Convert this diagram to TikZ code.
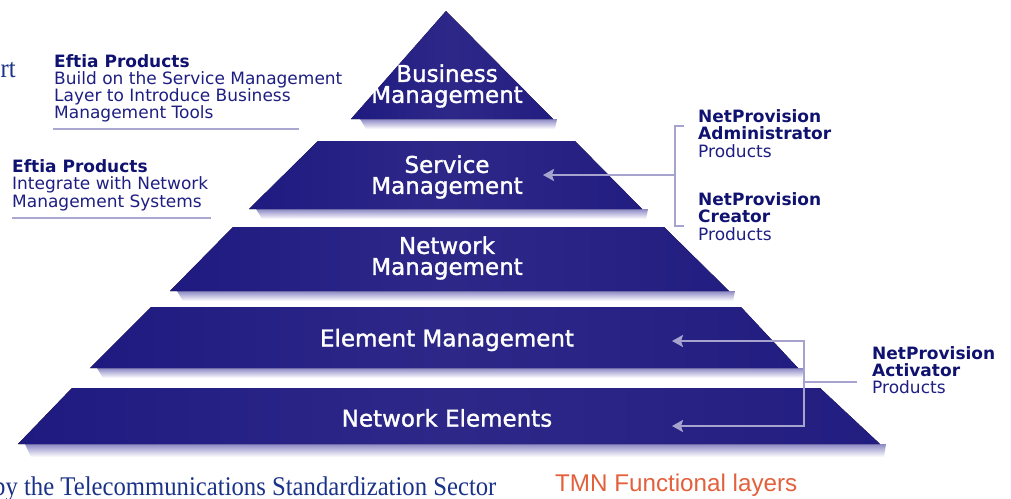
\documentclass[tikz,border=0pt]{standalone}
\usepackage{fontspec}
\newfontfamily\dvs{DejaVu Sans}
\newfontfamily\dvsb[FakeBold=1.4]{DejaVu Sans}
\newfontfamily\lbs{Liberation Sans}
\newfontfamily\lsr{Liberation Serif}
\usetikzlibrary{arrows.meta}
\definecolor{layerL}{RGB}{31,26,128}
\definecolor{layerM}{RGB}{45,40,136}
\definecolor{layerR}{RGB}{34,29,128}
\definecolor{shadowc}{RGB}{140,136,196}
\definecolor{connc}{RGB}{166,164,206}
\definecolor{navyb}{RGB}{16,18,112}
\definecolor{navy}{RGB}{30,30,130}
\definecolor{serifblue}{RGB}{26,50,135}
\definecolor{tmnorange}{RGB}{226,96,60}
\definecolor{rulec}{RGB}{170,168,208}
\tikzset{
  layerfill/.style={left color=layerL, right color=layerR, middle color=layerM},
  shadowstrip/.style={top color=shadowc, bottom color=white},
  lbl/.style={text=white, font=\dvsb\fontsize{23}{21}\selectfont, align=center, inner sep=0},
  info/.style={text=navy, font=\dvs\fontsize{17}{17.2}\selectfont, align=left, inner sep=0, anchor=north west},
  connline/.style={draw=connc, line width=2pt},
  connarrow/.style={connline, -{Stealth[length=11pt,width=12pt,inset=2pt]}},
  rulel/.style={draw=rulec, line width=2pt},
  serift/.style={inner sep=0, text=serifblue, font=\lsr\fontsize{27}{27}\selectfont, xscale=0.915},
}
\begin{document}
\begin{tikzpicture}[x=1pt,y=-1pt]
\useasboundingbox (0,0) rectangle (1011,498);
% shadows
\shade[shadowstrip] (360,119) -- (557,119) -- (555,129) -- (366,129) -- cycle;
\shade[shadowstrip] (256,209) -- (648,209) -- (646,219) -- (262,219) -- cycle;
\shade[shadowstrip] (177,291) -- (735,291) -- (733,301) -- (183,301) -- cycle;
\shade[shadowstrip] (97,368) -- (804,368) -- (802,378) -- (103,378) -- cycle;
\shade[shadowstrip] (25,444) -- (886,444) -- (884,457) -- (31,457) -- cycle;
% layers
\fill[layerfill] (446,11) -- (553,119) -- (351,119) -- cycle;
\fill[layerfill] (318,141) -- (575,141) -- (642,209) -- (249,209) -- cycle;
\fill[layerfill] (233,227) -- (664,227) -- (729,291) -- (170,291) -- cycle;
\fill[layerfill] (151,307) -- (741,307) -- (798,368) -- (90,368) -- cycle;
\fill[layerfill] (72,388) -- (820,388) -- (880,444) -- (18,444) -- cycle;
% layer labels
\node[lbl] (bm) at (447,86) {Business\\Management};
\node[lbl] (sm) at (447,177) {Service\\Management};
\node[lbl] (nm) at (447,258) {Network\\Management};
\node[lbl] (em) at (447,340) {Element Management};
\node[lbl] (ne) at (447,418) {Network Elements};
% left info
\node[info] (eft1) at (54,54) {\textcolor{navyb}{\bfseries Eftia Products}\\Build on the Service Management\\Layer to Introduce Business\\Management Tools};
\draw[rulel] (53,128.5) -- (299,128.5);
\node[info] (eft2) at (12,159.5) {\textcolor{navyb}{\bfseries Eftia Products}\\Integrate with Network\\Management Systems};
\draw[rulel] (12,217.5) -- (211,217.5);
% right info
\node[info] (npa) at (698,109.5) {\textcolor{navyb}{\bfseries NetProvision}\\\textcolor{navyb}{\bfseries Administrator}\\Products};
\node[info] (npc) at (698,192.5) {\textcolor{navyb}{\bfseries NetProvision}\\\textcolor{navyb}{\bfseries Creator}\\Products};
\node[info] (npv) at (872,346) {\textcolor{navyb}{\bfseries NetProvision}\\\textcolor{navyb}{\bfseries Activator}\\Products};
% connectors (upper bracket)
\coordinate (bt1) at (684,126);
\coordinate (bc1) at (675,126);
\coordinate (bc2) at (675,226);
\coordinate (bt2) at (684,226);
\coordinate (bmid) at (675,175);
\coordinate (smtip) at (543,175);
\draw[connline] (bt1) -- (bc1) -- (bc2) -- (bt2);
\draw[connarrow] (bmid) -- (smtip);
% connectors (lower bracket)
\coordinate (ac1) at (804,341);
\coordinate (ac2) at (804,426);
\coordinate (amid) at (804,382);
\coordinate (aend) at (857,382);
\coordinate (emtip) at (672,341);
\coordinate (netip) at (672,426);
\draw[connline] (aend) -- (amid);
\draw[connarrow] (ac2) -- (ac1) -- (emtip);
\draw[connarrow] (ac1) -- (ac2) -- (netip);
% cut-off texts
\node[serift, anchor=base east] (rt) at (16,77) {rt};
\node[serift, anchor=base west] (itu) at (-7,495) {by the Telecommunications Standardization Sector};
\node[anchor=base west, inner sep=0, text=tmnorange, font=\lbs\fontsize{24.2}{24.2}\selectfont] (tmn) at (555,491) {TMN Functional layers};
\end{tikzpicture}
\end{document}
